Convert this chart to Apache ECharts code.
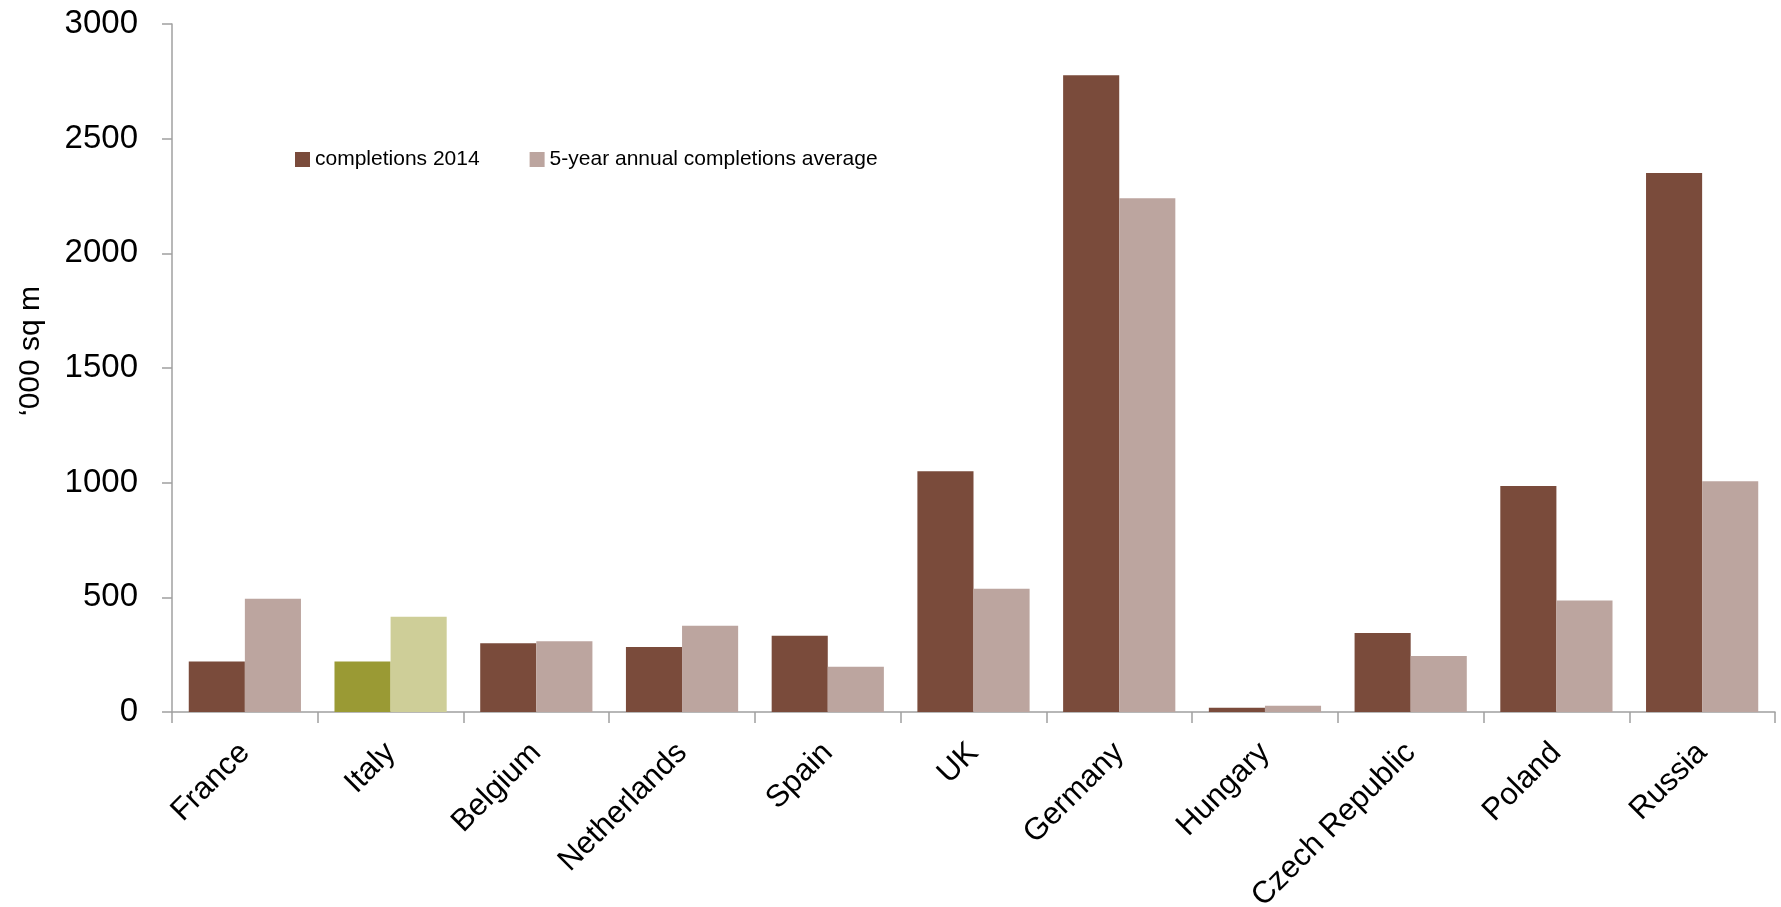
<!DOCTYPE html>
<html>
<head>
<meta charset="utf-8">
<script src="https://cdn.jsdelivr.net/npm/echarts@6/dist/echarts.min.js"></script>
<style>
html,body{margin:0;padding:0;background:#fff;}
#chart{width:1781px;height:907px;}
</style>
</head>
<body>
<div id="chart"></div>
<script>
var categories = ['France','Italy','Belgium','Netherlands','Spain','UK','Germany','Hungary','Czech Republic','Poland','Russia'];
var completions2014 = [220, 220, 300, 283, 332, 1050, 2777, 19, 344, 986, 2350];
var average5yr = [494, 415, 309, 376, 197, 537, 2240, 27, 244, 486, 1006];
var yTicks = [0, 500, 1000, 1500, 2000, 2500, 3000];
var seriesNames = ['completions 2014', '5-year annual completions average'];

var DARK = '#7A4B3B', LIGHT = '#BCA59F';
var HL_DARK = '#9A9A34', HL_LIGHT = '#CECE98';
var NARROW = "'Liberation Sans Narrow','Arial Narrow','Liberation Sans',sans-serif";
var REG = "'Liberation Sans',Arial,sans-serif";

function build(values, base, hl) {
  return values.map(function (v, i) {
    return categories[i] === 'Italy'
      ? { value: v, itemStyle: { color: hl } }
      : { value: v, itemStyle: { color: base } };
  });
}

var chart = echarts.init(document.getElementById('chart'), null, { renderer: 'canvas' });
chart.setOption({
  animation: false,
  backgroundColor: '#ffffff',
  grid: { left: 172, right: 6, top: 24, bottom: 195, containLabel: false, outerBoundsMode: 'none' },
  legend: {
    left: 290, top: 144,
    itemWidth: 15, itemHeight: 15, itemGap: 50,
    icon: 'rect',
    textStyle: { fontFamily: NARROW, fontSize: 21, color: '#000' },
    data: [
      { name: seriesNames[0], itemStyle: { color: DARK } },
      { name: seriesNames[1], itemStyle: { color: LIGHT } }
    ]
  },
  xAxis: {
    type: 'category',
    data: categories,
    axisLine: { lineStyle: { color: '#A0A0A0', width: 1.5 } },
    axisTick: { show: true, length: 11, lineStyle: { color: '#A0A0A0', width: 1.5 } },
    axisLabel: { rotate: 45, margin: 36, fontFamily: REG, fontSize: 31, color: '#000' },
    splitLine: { show: false }
  },
  yAxis: {
    type: 'value',
    min: yTicks[0], max: yTicks[yTicks.length - 1], interval: yTicks[1] - yTicks[0],
    name: '\u2018000 sq m',
    nameLocation: 'middle',
    nameRotate: 90,
    nameGap: 126,
    nameTextStyle: { fontFamily: REG, fontSize: 30, color: '#000', padding: [0, 0, 0, 34] },
    axisLine: { show: true, lineStyle: { color: '#A0A0A0', width: 1.5 } },
    axisTick: { show: true, length: 10, lineStyle: { color: '#A0A0A0', width: 1.5 } },
    axisLabel: { margin: 34, fontFamily: NARROW, fontSize: 33, color: '#000',
      formatter: function (v) { return String(v); } },
    splitLine: { show: false }
  },
  series: [
    {
      name: seriesNames[0], type: 'bar',
      data: build(completions2014, DARK, HL_DARK),
      itemStyle: { color: DARK },
      barGap: '0%', barCategoryGap: '23%'
    },
    {
      name: seriesNames[1], type: 'bar',
      data: build(average5yr, LIGHT, HL_LIGHT),
      itemStyle: { color: LIGHT },
      barGap: '0%', barCategoryGap: '23%'
    }
  ]
});
</script>
</body>
</html>
